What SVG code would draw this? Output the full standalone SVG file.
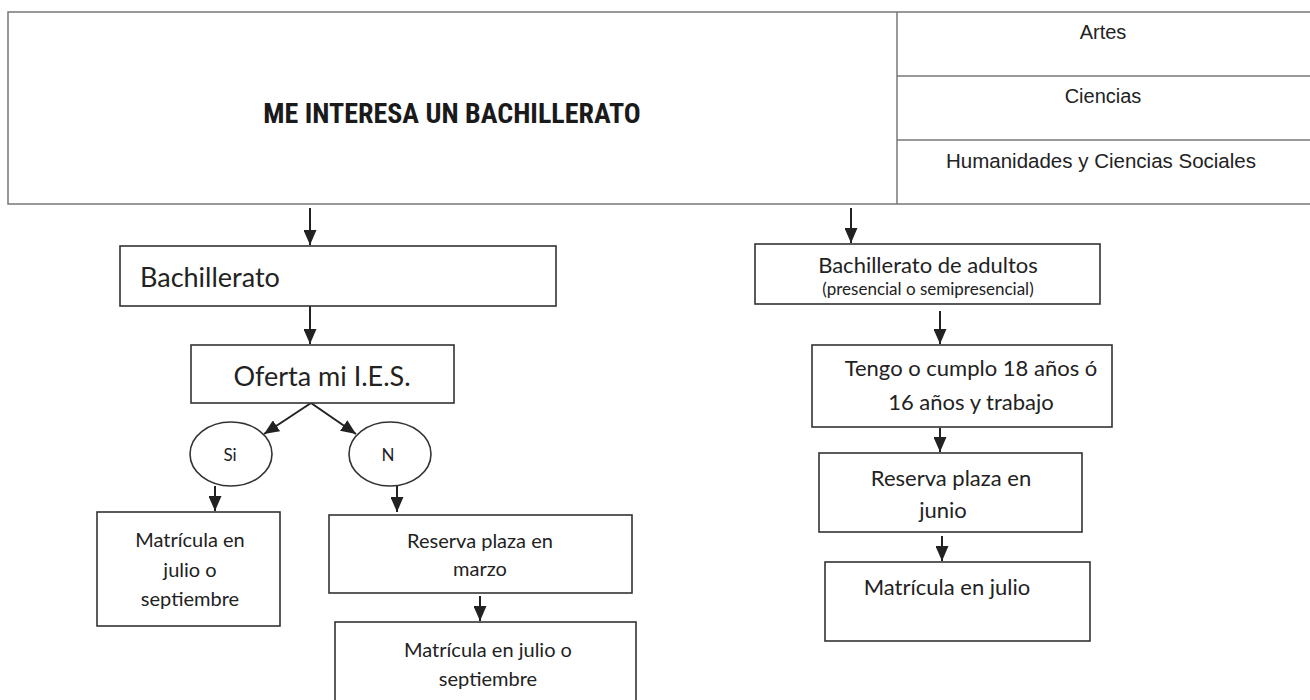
<svg xmlns="http://www.w3.org/2000/svg" width="1310" height="700" viewBox="0 0 1310 700">
<defs>
<marker id="ah" viewBox="0 0 15 13" refX="15" refY="6.5" markerWidth="15" markerHeight="13" markerUnits="userSpaceOnUse" orient="auto">
<path d="M0,0 L15,6.5 L0,13 z" fill="#222"/>
</marker>
<style>
.box{fill:#fff;stroke:#333;stroke-width:1.6}
.top{fill:#fff;stroke:#777;stroke-width:1.5}
.c{stroke:#222;stroke-width:2;fill:none;marker-end:url(#ah)}
.t{font-family:Lato,"Open Sans","Noto Sans",sans-serif;fill:#222;text-anchor:middle}
.n{font-family:"Liberation Sans",Arial,sans-serif;fill:#222;text-anchor:middle}
.b{font-family:"Roboto Condensed","Liberation Sans",sans-serif;font-weight:bold;fill:#1a1a1a;text-anchor:middle}
</style>
</defs>
<rect width="1310" height="700" fill="#fff"/>
<g id="header">
<rect class="top" x="8" y="12" width="1310" height="192"/>
<line class="top" x1="897" y1="12" x2="897" y2="204"/>
<line class="top" x1="897" y1="76" x2="1310" y2="76"/>
<line class="top" x1="897" y1="140" x2="1310" y2="140"/>
<text class="b" x="452" y="123" font-size="28">ME INTERESA UN BACHILLERATO</text>
<text class="n" x="1103" y="39" font-size="20">Artes</text>
<text class="n" x="1103" y="103" font-size="20">Ciencias</text>
<text class="n" x="1101" y="168" font-size="20.5">Humanidades y Ciencias Sociales</text>
</g>
<g id="connectors">
<line class="c" x1="310" y1="208" x2="310" y2="245"/>
<line class="c" x1="310" y1="306" x2="310" y2="344"/>
<line class="c" x1="311" y1="403" x2="264" y2="434"/>
<line class="c" x1="311" y1="403" x2="356" y2="434"/>
<line class="c" x1="215" y1="486" x2="215" y2="511"/>
<line class="c" x1="397" y1="486" x2="397" y2="512"/>
<line class="c" x1="480" y1="596" x2="480" y2="621"/>
<line class="c" x1="851" y1="208" x2="851" y2="243"/>
<line class="c" x1="940" y1="311" x2="940" y2="344"/>
<line class="c" x1="940" y1="428" x2="940" y2="452"/>
<line class="c" x1="942" y1="536" x2="942" y2="561"/>
</g>
<g id="bachillerato">
<rect class="box" x="120" y="246" width="436" height="60"/>
<text class="t" x="140" y="287" font-size="27" style="text-anchor:start">Bachillerato</text>
</g>
<g id="oferta">
<rect class="box" x="191" y="345" width="263" height="58"/>
<text class="t" x="322" y="386" font-size="27">Oferta mi I.E.S.</text>
</g>
<g id="si">
<ellipse class="box" cx="231" cy="454" rx="41" ry="32"/>
<text class="t" x="230" y="461" font-size="17">Si</text>
</g>
<g id="no">
<ellipse class="box" cx="390" cy="454" rx="41" ry="32"/>
<text class="t" x="388" y="461" font-size="17">N</text>
</g>
<g id="matricula1">
<rect class="box" x="97" y="512" width="183" height="114"/>
<text class="t" x="190" y="547" font-size="20">Matrícula en</text>
<text class="t" x="190" y="577" font-size="20">julio o</text>
<text class="t" x="190" y="606" font-size="20">septiembre</text>
</g>
<g id="reserva1">
<rect class="box" x="329" y="515" width="303" height="78"/>
<text class="t" x="480" y="548" font-size="20">Reserva plaza en</text>
<text class="t" x="480" y="576" font-size="20">marzo</text>
</g>
<g id="matricula2">
<rect class="box" x="335" y="622" width="301" height="82"/>
<text class="t" x="488" y="657" font-size="20">Matrícula en julio o</text>
<text class="t" x="488" y="686" font-size="20">septiembre</text>
</g>
<g id="adultos">
<rect class="box" x="755" y="244" width="345" height="60"/>
<text class="t" x="928" y="273" font-size="22">Bachillerato de adultos</text>
<text class="t" x="928" y="295" font-size="17">(presencial o semipresencial)</text>
</g>
<g id="edad">
<rect class="box" x="812" y="345" width="300" height="82"/>
<text class="t" x="971" y="376" font-size="22">Tengo o cumplo 18 años ó</text>
<text class="t" x="971" y="410" font-size="22">16 años y trabajo</text>
</g>
<g id="reserva2">
<rect class="box" x="819" y="453" width="263" height="79"/>
<text class="t" x="951" y="486" font-size="22">Reserva plaza en</text>
<text class="t" x="943" y="518" font-size="22">junio</text>
</g>
<g id="matricula3">
<rect class="box" x="825" y="562" width="265" height="79"/>
<text class="t" x="947" y="595" font-size="22">Matrícula en julio</text>
</g>
</svg>
